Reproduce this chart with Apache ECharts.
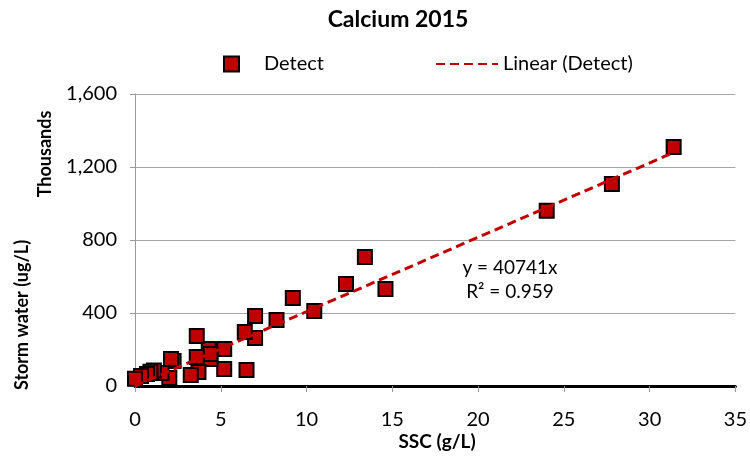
<!DOCTYPE html>
<html><head><meta charset="utf-8">
<script src="https://cdn.jsdelivr.net/npm/echarts@6/dist/echarts.min.js"></script>
<style>html,body{margin:0;padding:0;background:#fff}#c{width:750px;height:461px}</style>
</head><body><div id="c"></div>
<script>
// SSC (g/L)
const sscX = [31.4, 27.8, 24.0, 14.6, 13.4, 12.3, 10.45, 9.2, 8.25, 7.0, 7.0, 6.4, 6.5, 5.2, 5.2, 4.3, 4.4, 4.4, 3.6, 3.6, 3.7, 3.25, 2.25, 2.1, 2.0, 1.55, 1.1, 0.9, 0.7, 0.35, 0.0];
// Storm water (ug/L), thousands
const stormY = [1310, 1107, 960, 532, 707, 559, 411, 482, 362, 384, 263, 296, 88, 203, 93, 203, 148, 175, 274, 159, 77, 60, 137, 148, 44, 71, 85, 78, 66, 55, 40];
const trendSlope = 40.741; // thousands per g/L  (y = 40741x)
const trendRange = [0, 31.4];
const xTicks = [0, 35, 5];
const yTicks = [0, 1600, 400];

const points = sscX.map((x, i) => [x, stormY[i]]);
const trend = trendRange.map(x => [x, trendSlope * x]);
const FONT = 'Lato';
const chart = echarts.init(document.getElementById('c'));
chart.setOption({
  animation: false,
  textStyle: {fontFamily: FONT},
  title: {text: 'Calcium 2015', left: 393, top: 3, textAlign: 'center',
    textStyle: {fontFamily: FONT, fontWeight: 'bold', fontSize: 23, color: '#000'}},
  legend: [
    {data: ['Detect'], left: 218, top: 49, itemWidth: 15, itemHeight: 15,
      textStyle: {fontSize: 20, color: '#000', padding: [0, 0, 0, 20]}},
    {data: ['Linear (Detect)'], left: 430, top: 49, itemWidth: 62, itemHeight: 14,
      itemStyle: {opacity: 0},
      textStyle: {fontSize: 20, color: '#000'}}
  ],
  grid: {left: 135, right: 10, top: 94, bottom: 75},
  xAxis: {type: 'value', min: xTicks[0], max: xTicks[1], interval: xTicks[2],
    axisLine: {onZero: false, lineStyle: {color: '#000', width: 3}},
    axisTick: {show: true, length: 6, lineStyle: {color: '#999', width: 1}},
    axisLabel: {fontSize: 20, color: '#000', margin: 24},
    splitLine: {show: false}},
  yAxis: {type: 'value', min: yTicks[0], max: yTicks[1], interval: yTicks[2],
    axisLine: {show: true, lineStyle: {color: '#999', width: 1}},
    axisTick: {show: true, length: 5, lineStyle: {color: '#999'}},
    axisLabel: {fontSize: 20, color: '#000', margin: 18,
      formatter: v => v.toLocaleString('en-US')},
    splitLine: {show: true, lineStyle: {color: '#a6a6a6', width: 1}}},
  graphic: [
    {type: 'text', x: 22, y: 315, rotation: Math.PI / 2, style: {text: 'Storm water (ug/L)',
      font: 'bold 18px ' + FONT, fill: '#000', align: 'center', verticalAlign: 'middle'}},
    {type: 'text', x: 45, y: 154, rotation: Math.PI / 2, style: {text: 'Thousands',
      font: 'bold 18px ' + FONT, fill: '#000', align: 'center', verticalAlign: 'middle'}},
    {type: 'text', x: 437, y: 442, style: {text: 'SSC (g/L)',
      font: 'bold 19px ' + FONT, fill: '#000', align: 'center', verticalAlign: 'middle'}},
    {type: 'text', x: 510, y: 268, style: {text: 'y = 40741x',
      font: '19px ' + FONT, fill: '#000', align: 'center', verticalAlign: 'middle'}},
    {type: 'text', x: 510, y: 292, style: {text: 'R² = 0.959',
      font: '19px ' + FONT, fill: '#000', align: 'center', verticalAlign: 'middle'}}
  ],
  series: [
    {name: 'Detect', type: 'scatter', data: points, symbol: 'rect', symbolSize: 14,
      itemStyle: {color: '#c00000', borderColor: '#000', borderWidth: 2, opacity: 1}, z: 3},
    {name: 'Linear (Detect)', type: 'line', data: trend, symbol: 'none', showSymbol: false,
      lineStyle: {color: '#c00000', width: 3, type: [9, 5]}, itemStyle: {color: '#c00000'}, z: 4}
  ]
});
</script></body></html>
